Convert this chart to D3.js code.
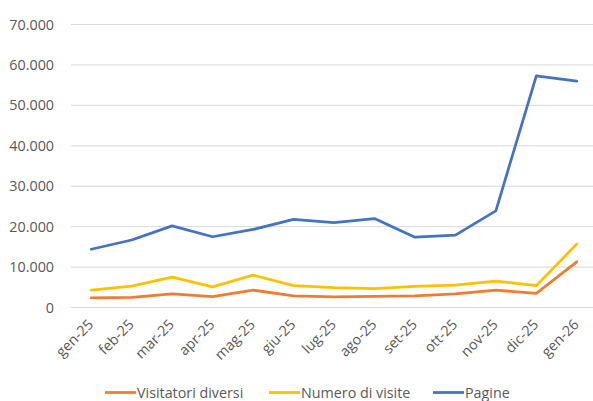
<!DOCTYPE html>
<html><head><meta charset="utf-8">
<script src="https://cdn.jsdelivr.net/npm/d3@7"></script>
<style>html,body{margin:0;padding:0;background:#fff;} svg{display:block;}</style>
</head><body>
<svg id="c" width="593" height="401"></svg>
<script>
const categories = ["gen-25","feb-25","mar-25","apr-25","mag-25","giu-25","lug-25","ago-25","set-25","ott-25","nov-25","dic-25","gen-26"];
const visitatori = [2350,2500,3350,2700,4300,2850,2600,2750,2900,3350,4300,3500,11300];
const visite = [4300,5300,7500,5100,8000,5400,4900,4650,5200,5550,6550,5400,15700];
const pagine = [14400,16700,20200,17500,19300,21800,21000,22000,17400,17900,23900,57300,56000];
const yTicks = [0,10000,20000,30000,40000,50000,60000,70000];
const seriesNames = ["Visitatori diversi","Numero di visite","Pagine"];
const seriesColors = ["#ED7D31","#FFC000","#4472C4"];

const svg = d3.select("#c");
const font = "'Open Sans', 'Noto Sans', sans-serif";
const fs = "14.3px";
const pLeft = 71, pRight = 597, pTop = 24.5, pBottom = 307.5;
const x = d3.scaleBand().domain(categories).range([pLeft, pRight]);
const y = d3.scaleLinear().domain([0,70000]).range([pBottom, pTop]);
const fmt = v => v === 0 ? "0" : d3.format(",")(v).replace(/,/g, ".");

// gridlines
svg.append("g").selectAll("line").data(yTicks).join("line")
  .attr("x1", pLeft).attr("x2", pRight)
  .attr("y1", d => y(d)).attr("y2", d => y(d))
  .attr("stroke", "#d9d9d9").attr("stroke-width", 1);

// y axis labels
const yAxis = d3.axisLeft(y).tickValues(yTicks).tickFormat(fmt).tickSize(0).tickPadding(0);
const gy = svg.append("g").attr("transform", `translate(54,0)`).call(yAxis);
gy.select(".domain").remove();
gy.selectAll("text").attr("fill", "#595959").style("font-family", font).style("font-size", fs);

// x axis labels
const xAxis = d3.axisBottom(x).tickSize(0).tickPadding(0);
const gx = svg.append("g").attr("transform", `translate(0,${pBottom})`).call(xAxis);
gx.select(".domain").remove();
gx.selectAll("text")
  .attr("fill", "#595959").style("font-family", font).style("font-size", fs)
  .attr("text-anchor", "end")
  .attr("dy", null)
  .attr("transform", "translate(3,18) rotate(-45)");

// lines
const data = [visitatori, visite, pagine];
const line = d3.line().x((d,i) => x(categories[i]) + x.bandwidth()/2).y(d => y(d));
svg.append("g").selectAll("path").data(data).join("path")
  .attr("d", line).attr("fill", "none")
  .attr("stroke", (d,i) => seriesColors[i]).attr("stroke-width", 2.75)
  .attr("stroke-linejoin", "round").attr("stroke-linecap", "round");

// legend
const legX = [105, 269, 433];
const lg = svg.append("g");
seriesNames.forEach((n,i) => {
  lg.append("line").attr("x1", legX[i]).attr("x2", legX[i]+31).attr("y1", 392.5).attr("y2", 392.5)
    .attr("stroke", seriesColors[i]).attr("stroke-width", 2.75);
  lg.append("text").attr("x", legX[i]+32).attr("y", 392.5).attr("dy", "0.35em")
    .attr("fill", "#595959").style("font-family", font).style("font-size", fs).text(n);
});
</script>
</body></html>
